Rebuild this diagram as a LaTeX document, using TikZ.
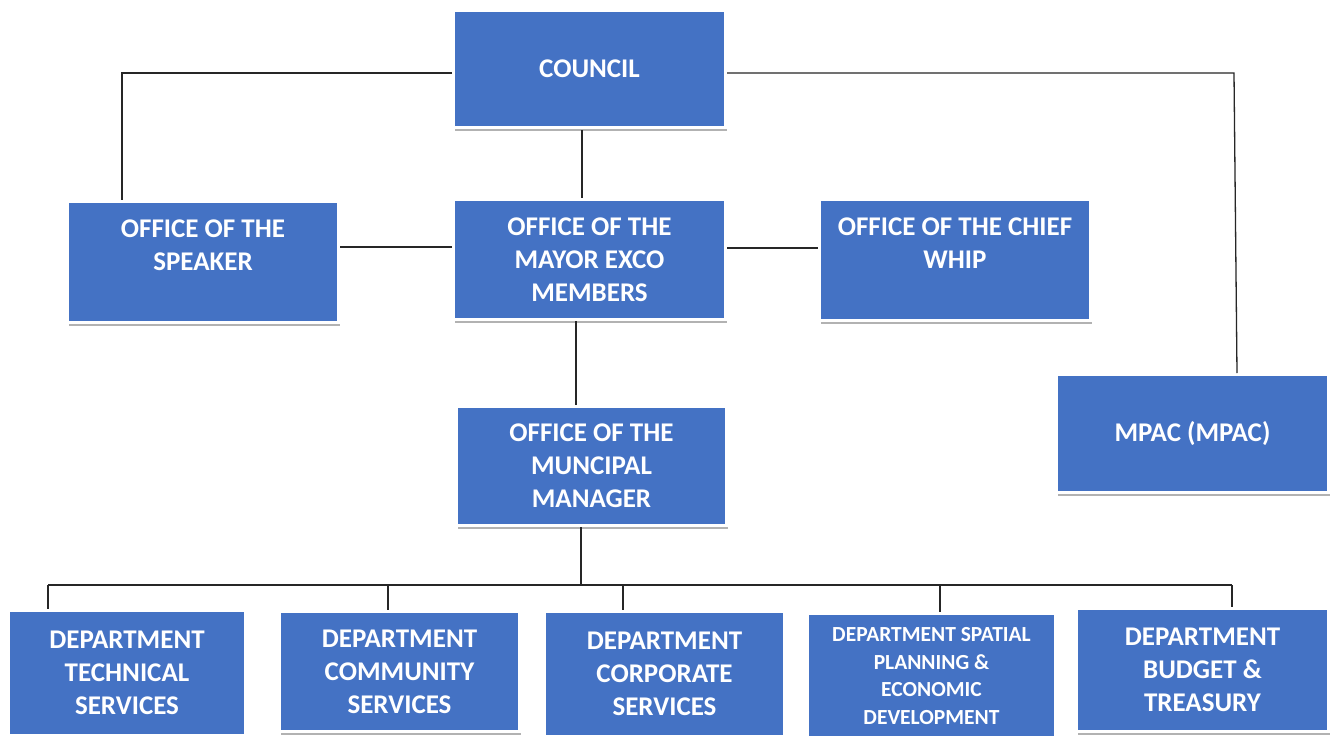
\documentclass[tikz,border=0pt]{standalone}
\usepackage{fontspec}
\setmainfont{Carlito}
\usetikzlibrary{shadows}
\definecolor{boxblue}{HTML}{4472C4}
\begin{document}
\begin{tikzpicture}[x=1pt,y=-1pt,
  orgbox/.style={rectangle, fill=boxblue, draw=white, line width=3pt,
    drop shadow={shadow xshift=1.5pt, shadow yshift=-3pt, fill=black!30, opacity=1},
    text=white, align=center, inner sep=2pt,
    font=\fontsize{27}{33}\selectfont\bfseries},
  smalltext/.style={font=\fontsize{21.5}{27.5}\selectfont\bfseries},
  link/.style={draw=black!85, line width=1.3pt}]
\clip (0,0) rectangle (1334,736);
\fill[white] (0,0) rectangle (1334,736);

\node[orgbox, minimum width=272, minimum height=117] (council) at (589.5,69) {COUNCIL};
\node[orgbox, minimum width=271, minimum height=121] (speaker) at (203,262) {OFFICE OF THE\\SPEAKER\\[-10pt]\strut};
\node[orgbox, minimum width=272, minimum height=120] (mayor) at (589.5,259.5) {OFFICE OF THE\\MAYOR EXCO\\MEMBERS};
\node[orgbox, minimum width=271, minimum height=121] (whip) at (955,260) {OFFICE OF THE CHIEF\\WHIP\\[-10pt]\strut};
\node[orgbox, minimum width=272, minimum height=118] (mpac) at (1192.5,433.5) {MPAC (MPAC)};
\node[orgbox, minimum width=270, minimum height=119] (mm) at (591.5,466) {OFFICE OF THE\\MUNCIPAL\\MANAGER};

\node[orgbox, minimum width=237, minimum height=125] (d1) at (127,673) {DEPARTMENT\\TECHNICAL\\SERVICES};
\node[orgbox, minimum width=240, minimum height=120] (d2) at (399.5,671.5) {DEPARTMENT\\COMMUNITY\\SERVICES};
\node[orgbox, minimum width=240, minimum height=125] (d3) at (664.5,674) {DEPARTMENT\\CORPORATE\\SERVICES};
\node[orgbox, smalltext, minimum width=248, minimum height=125] (d4) at (931.5,676) {DEPARTMENT SPATIAL\\PLANNING \&\\ECONOMIC\\DEVELOPMENT};
\node[orgbox, minimum width=252, minimum height=123] (d5) at (1202.5,670) {DEPARTMENT\\BUDGET \&\\TREASURY};

\coordinate (cl) at (122,73);
\coordinate (cr) at (1234,73);
\coordinate (mpt) at (1237,373);
\coordinate (cb) at (582,130);
\coordinate (mb) at (576,321);
\coordinate (mmb) at (581,527);
\coordinate (busL) at (48,585);
\coordinate (busR) at (1232,585);
\coordinate (busM) at (581,585);
\coordinate (b2) at (388,585);
\coordinate (b3) at (623,585);
\coordinate (b4) at (940,585);
\coordinate (ls) at (0,247);
\coordinate (rs) at (0,248);

\draw[link] (council.west |- cl) -- (cl) -- (speaker.north -| cl);
\draw[link] (council.east |- cr) -- (cr) -- (mpt);
\draw[link] (cb) -- (mayor.north -| cb);
\draw[link] (mayor.west |- ls) -- (speaker.east |- ls);
\draw[link] (mayor.east |- rs) -- (whip.west |- rs);
\draw[link] (mb) -- (mm.north -| mb);
\draw[link] (mmb) -- (busM);
\draw[link] (busL) -- (busR);
\draw[link] (busL) -- (d1.north -| busL);
\draw[link] (b2) -- (d2.north -| b2);
\draw[link] (b3) -- (d3.north -| b3);
\draw[link] (b4) -- (d4.north -| b4);
\draw[link] (busR) -- (d5.north -| busR);
\end{tikzpicture}
\end{document}
